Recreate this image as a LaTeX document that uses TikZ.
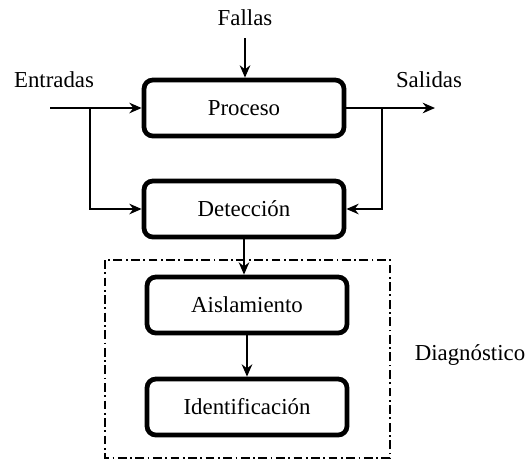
\documentclass[tikz,border=0pt]{standalone}
\usepackage{fontspec}
\setmainfont{Liberation Serif}
\usetikzlibrary{arrows.meta}

\begin{document}
\begin{tikzpicture}[x=0.02cm,y=-0.02cm,
		bloque/.style={draw, line width=2.7pt, rounded corners=5pt, minimum width=4.0cm, minimum height=1.12cm, font=\fontsize{13}{15}\selectfont},
		etiqueta/.style={font=\fontsize{13}{15}\selectfont},
		flecha/.style={line width=1.1pt, -{Stealth[length=7pt,width=6pt]}}]

		\useasboundingbox (0,0) rectangle (530,461);

		\node[bloque] (proc) at (244,108) {Proceso};
		\node[bloque] (det) at (244,209) {Detección};
		\node[bloque] (ais) at (247,305) {Aislamiento};
		\node[bloque] (ide) at (247,407) {Identificación};

		\node[etiqueta] (fallas) at (245,18) {Fallas};
		\node[etiqueta] (entradas) at (54,80) {Entradas};
		\node[etiqueta] (salidas) at (429,80) {Salidas};
		\node[etiqueta] (diag) at (470,355) {Diagnóstico};

		\coordinate (fal) at (245,38);
		\coordinate (ent) at (50,108);
		\coordinate (ramaE) at (90,108);
		\coordinate (ramaS) at (382,108);
		\coordinate (sal) at (435,108);

		\draw[flecha] (fal) -- (fal |- proc.north);
		\draw[flecha] (ent) -- (proc.west);
		\draw[flecha] (ramaE) |- (det.west);
		\draw[flecha] (proc.east) -- (sal);
		\draw[flecha] (ramaS) |- (det.east);
		\draw[flecha] (det.south) -- (det.south |- ais.north);
		\draw[flecha] (ais.south) -- (ide.north);

		\draw[line width=0.8pt, dash pattern=on 5pt off 2pt on 1pt off 2pt] (105,260) rectangle (390,458);

	\end{tikzpicture}
\end{document}
